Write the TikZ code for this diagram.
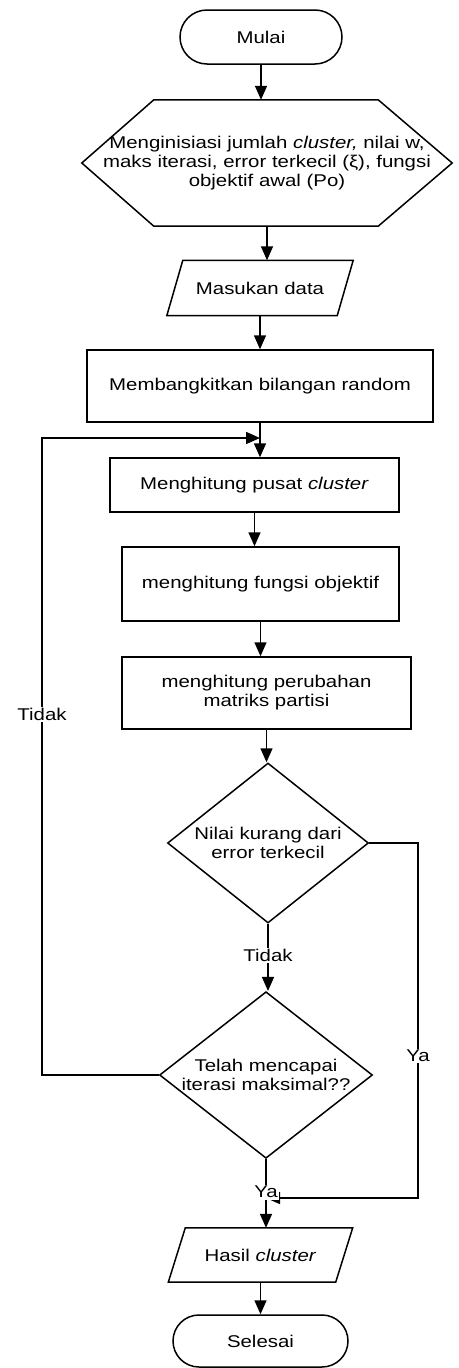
\documentclass[tikz,border=0pt]{standalone}
\usepackage{fontspec}
\setmainfont{Liberation Sans}[FakeStretch=1.2]
\usetikzlibrary{shapes.misc,shapes.geometric,arrows.meta,calc}
\begin{document}
\begin{tikzpicture}[x=1pt,y=1pt,
  every node/.style={font=\fontsize{17}{19}\selectfont, align=center, inner sep=0pt},
  lw/.style={line width=1.5pt},
  arr/.style={lw, -{Triangle[length=14pt,width=12pt]}},
  term/.style={rounded rectangle, draw, lw},
  proc/.style={rectangle, draw, lw},
  plain/.style={rectangle},
  dec/.style={diamond, draw, lw, aspect=1.25},
  lab/.style={fill=white, inner sep=1.5pt}
]
\useasboundingbox (0,0) rectangle (458,-1368);

% nodes
\node[term, minimum width=162, minimum height=54] (start) at (261,-37) {Mulai};
\node[plain, minimum width=370, minimum height=126] (init) at (267,-163)
  {Menginisiasi jumlah \textit{cluster,} nilai w,\\maks iterasi, error terkecil (ξ), fungsi\\objektif awal (Po)};
\draw[lw] ($(init.north west)+(72,0)$) -- ($(init.north east)+(-74,0)$) -- (init.east)
  -- ($(init.south east)+(-74,0)$) -- ($(init.south west)+(72,0)$) -- (init.west) -- cycle;

\node[plain, minimum width=170, minimum height=55] (in1) at (260,-288) {Masukan data};
\draw[lw] ($(in1.south west)+(-8,0)$) -- ($(in1.south east)+(-8,0)$)
  -- ($(in1.north east)+(8,0)$) -- ($(in1.north west)+(8,0)$) -- cycle;

\node[proc, minimum width=346, minimum height=72] (gen) at (260,-386) {Membangkitkan bilangan random};
\node[proc, minimum width=289, minimum height=54] (pusat) at (254.5,-485) {Menghitung pusat \textit{cluster}};
\node[proc, minimum width=277, minimum height=74] (fungsi) at (260.5,-584) {menghitung fungsi objektif};
\node[proc, minimum width=289, minimum height=72] (matriks) at (266.5,-693) {menghitung perubahan\\matriks partisi};
\node[dec, minimum width=201, minimum height=160] (d1) at (268,-843) {Nilai kurang dari\\error terkecil};
\node[dec, minimum width=213, minimum height=160] (d2) at (266,-1075) {Telah mencapai\\iterasi maksimal??};

\node[plain, minimum width=167, minimum height=54] (out) at (260.5,-1255) {Hasil \textit{cluster}};
\draw[lw] ($(out.south west)+(-8.5,0)$) -- ($(out.south east)+(-8.5,0)$)
  -- ($(out.north east)+(8.5,0)$) -- ($(out.north west)+(8.5,0)$) -- cycle;

\node[term, minimum width=175, minimum height=52] (end) at (260.5,-1341) {Selesai};

% helper coordinates
\coordinate (rt) at (418,-843);
\coordinate (join) at (266,-1198);
\coordinate (lx) at (42,-1075);
\coordinate (loop) at (260,-438);

% connectors
\draw[arr] (start.south) -- (start.south |- init.north);
\draw[arr] (init.south) -- (init.south |- in1.north);
\draw[arr] (in1.south) -- (in1.south |- gen.north);
\draw[arr] (gen.south) -- (gen.south |- pusat.north);
\draw[arr] (pusat.south) -- (pusat.south |- fungsi.north);
\draw[arr] (fungsi.south) -- (fungsi.south |- matriks.north);
\draw[arr] (matriks.south) -- (matriks.south |- d1.north);
\draw[arr] (d1.south) -- (d1.south |- d2.north) node[lab, pos=0.47] {Tidak};
\draw[arr] (d1.east) -- (rt) |- (join) node[lab, pos=0.30] {Ya};
\draw[arr] (d2.west) -- (lx) |- (loop) node[lab, pos=0.283] {Tidak};
\draw[arr] (d2.south) -- (d2.south |- out.north) node[lab, pos=0.48] {Ya};
\draw[arr] (out.south) -- (out.south |- end.north);
\end{tikzpicture}
\end{document}
